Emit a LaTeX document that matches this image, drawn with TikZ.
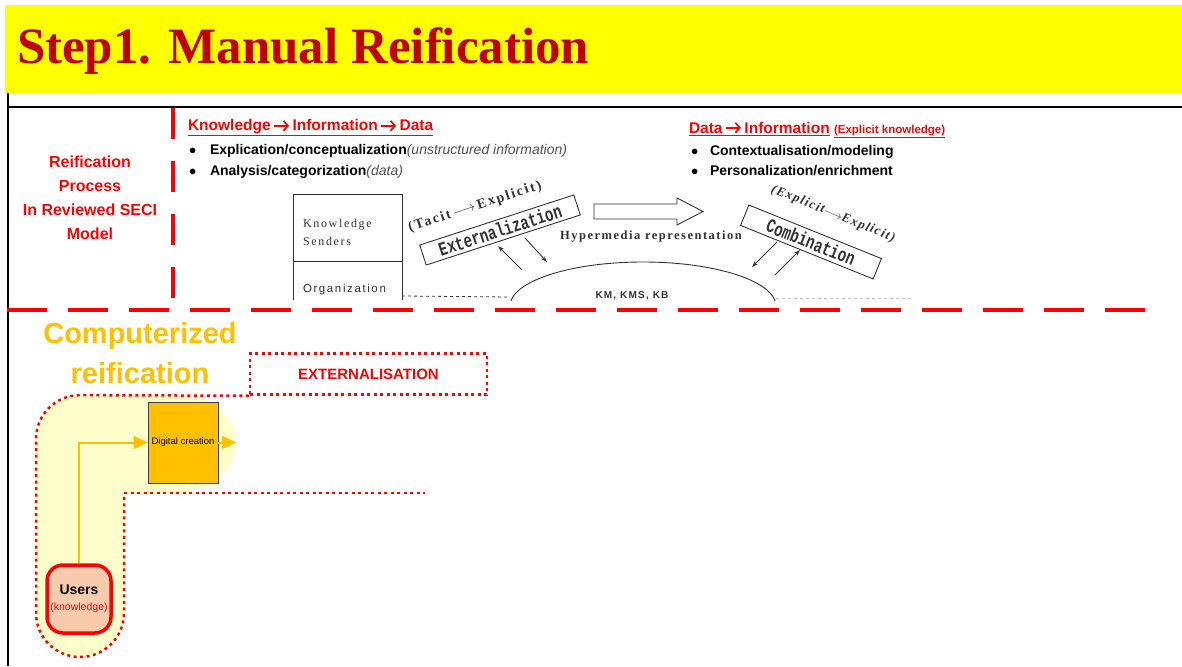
\documentclass[tikz,border=0pt]{standalone}
\usepackage{fontspec}
\setmainfont{Liberation Serif}
\newfontfamily\lsans{Liberation Sans}
\newfontfamily\lmono{Liberation Mono}
\usetikzlibrary{arrows.meta}
\definecolor{titlered}{RGB}{192,0,0}
\definecolor{bannery}{RGB}{255,255,0}
\definecolor{orng}{RGB}{255,192,0}
\definecolor{lighty}{RGB}{255,255,204}
\definecolor{peach}{RGB}{248,203,173}
\definecolor{seci}{RGB}{50,50,50}
\definecolor{itgrey}{RGB}{80,80,80}
\newcommand{\bigarr}{\,\tikz[baseline=0pt]{\draw[red, line width=1.7pt, -{Straight Barb[length=4.5pt,width=10pt,line width=1.7pt]}] (0pt,5.2pt) -- (15pt,5.2pt);}\,}
\tikzset{
  reddash/.style={draw=red, line width=3.5pt},
  reddot/.style={draw=red, line width=2.5pt, dash pattern=on 3pt off 3.5pt},
  txt/.style={inner sep=0pt, outer sep=0pt},
  secibox/.style={draw=seci, line width=0.9pt},
  smallarrow/.style={draw=seci, line width=0.9pt, -{Stealth[length=6pt,width=4pt]}},
  hdr/.style={txt, anchor=base west, text=red, font=\lsans\bfseries\fontsize{15.5}{15}\selectfont},
  bul/.style={txt, anchor=base west, font=\lsans\bfseries\fontsize{14}{14}\selectfont},
  orarrow/.style={draw=orng, line width=2pt, -{Triangle[length=14pt,width=13pt]}}
}
\begin{document}
\begin{tikzpicture}[x=1pt,y=-1pt]
\useasboundingbox (0,0) rectangle (1182,666);
% banner
\fill[bannery] (5,5) rectangle (1182,93);
\node[txt, anchor=base west, text=titlered, font=\bfseries\fontsize{51}{51}\selectfont] (title) at (17,64) {Step1. Manual Reification};
% black frame lines
\draw[black, line width=2.5pt] (8,93) -- (8,666);
\draw[black, line width=2.5pt] (8,107) -- (1182,107);
% red dashed separators
\draw[reddash, dash pattern=on 31pt off 22pt] (173,108) -- (173,300);
\draw[reddash, dash pattern=on 40pt off 21pt] (7,310) -- (1162,310);
% left label
\node[txt, align=center, text=red, font=\lsans\bfseries\fontsize{16}{24}\selectfont] (reif) at (90,198) {Reification\\Process\\In Reviewed SECI\\Model};
% headers
\node[hdr] (h1) at (188,131) {\underline{Knowledge\bigarr Information\bigarr Data}};
\node[bul] (b1) at (189,154) {$\bullet$};
\node[bul] (t1) at (210,154) {Explication/conceptualization{\mdseries\itshape\color{itgrey}(unstructured information)}};
\node[bul] (b2) at (189,175) {$\bullet$};
\node[bul] (t2) at (210,175) {Analysis/categorization{\mdseries\itshape\color{itgrey}(data)}};
\node[hdr] (h2) at (689,133) {\underline{Data\bigarr Information} {\fontsize{11.5}{12}\selectfont\underline{(Explicit knowledge)}}};
\node[bul] (b3) at (691,155) {$\bullet$};
\node[bul] (t3) at (710,155) {Contextualisation/modeling};
\node[bul] (b4) at (691,175) {$\bullet$};
\node[bul] (t4) at (710,175) {Personalization/enrichment};
% SECI picture
\draw[secibox] (293,300) -- (293,194) -- (402,194) -- (402,300);
\draw[secibox] (293,261) -- (402,261);
\node[txt, anchor=base west, text=seci, font=\fontsize{12}{12}\selectfont\addfontfeatures{LetterSpace=14}] (ks1) at (303,227) {Knowledge};
\node[txt, anchor=base west, text=seci, font=\fontsize{12}{12}\selectfont\addfontfeatures{LetterSpace=14}] (ks2) at (303,245) {Senders};
\node[txt, anchor=base west, text=seci, font=\lsans\fontsize{11.5}{12}\selectfont\addfontfeatures{LetterSpace=14}] (org) at (303,292) {Organization};
\begin{scope}
\clip (495,240) rectangle (800,300);
\draw[secibox] (643,306) ellipse [x radius=133pt, y radius=44pt];
\end{scope}
\coordinate (ellL) at (510,297);
\coordinate (ellR) at (776,298);
\coordinate (dashEnd) at (910,298);
\draw[seci, line width=0.8pt, dashed] (402,296) -- (ellL);
\draw[black!25, line width=0.8pt, dashed] (ellR) -- (dashEnd);
\node[txt, text=seci, font=\lsans\bfseries\fontsize{10}{10}\selectfont\addfontfeatures{LetterSpace=12}] (km) at (632,296) {KM, KMS, KB};
\node[secibox, rotate=18, minimum width=162pt, minimum height=21pt, inner sep=0pt, text=seci] (ext) at (500,230) {\lmono\bfseries\fontsize{15}{15}\selectfont\scalebox{0.95}[1.3]{Externalization}};
\node[txt, rotate=18, text=seci, font=\bfseries\fontsize{14}{14}\selectfont\addfontfeatures{LetterSpace=14}] (tacit) at (475,207) {(Tacit$\,\longrightarrow\,$Explicit)};
\node[secibox, rotate=-22, minimum width=143pt, minimum height=22pt, inner sep=0pt, text=seci] (comb) at (811,242) {\lmono\bfseries\fontsize{15}{15}\selectfont\scalebox{0.95}[1.3]{Combination}};
\node[txt, rotate=-22, text=seci, font=\bfseries\itshape\fontsize{13}{13}\selectfont\addfontfeatures{LetterSpace=10}] (expl) at (833,214) {(Explicit$\longrightarrow$Explicit)};
\node[txt, text=seci, font=\bfseries\fontsize{12.5}{13}\selectfont\addfontfeatures{LetterSpace=12}] (hyper) at (651,237) {Hypermedia representation};
\draw[seci, line width=0.9pt] (594,204) -- (677,204) -- (677,198) -- (703,211.5) -- (677,225) -- (677,219) -- (594,219) -- cycle;
\coordinate (a1s) at (522,270); \coordinate (a1e) at (498,246);
\coordinate (a2s) at (525,238); \coordinate (a2e) at (547,262);
\coordinate (a3s) at (777,242); \coordinate (a3e) at (752,267);
\coordinate (a4s) at (775,275); \coordinate (a4e) at (800,250);
\draw[smallarrow] (a1s) -- (a1e);
\draw[smallarrow] (a2s) -- (a2e);
\draw[smallarrow] (a3s) -- (a3e);
\draw[smallarrow] (a4s) -- (a4e);
% computerized reification
\node[txt, anchor=base, text=orng, font=\lsans\bfseries\fontsize{29}{29}\selectfont] (comp1) at (140,343) {Computerized};
\node[txt, anchor=base, text=orng, font=\lsans\bfseries\fontsize{29}{29}\selectfont] (comp2) at (140,383) {reification};
% yellow region
\fill[lighty, rounded corners=44pt] (150,395) -- (36,395) -- (36,657) -- (124,657) -- (124,500) [sharp corners] -- (124,493) -- (190,493) -- (190,395) -- cycle;
\fill[lighty] (190,443) circle [radius=46pt];
% externalisation box and dotted outline
\node[reddot, minimum width=237pt, minimum height=41pt, inner sep=0pt, text=red, font=\lsans\bfseries\fontsize{15}{15}\selectfont] (extl) at (368.5,374) {EXTERNALISATION};
\coordinate (corner) at (124,493);
\coordinate (lend) at (425,493);
\draw[reddot, rounded corners=44pt] (extl.south west) -- (36,395) -- (36,657) -- (124,657) -- (corner);
\draw[reddot] (corner) -- (lend);
% digital creation
\node[draw=black!75, line width=0.8pt, fill=orng, minimum width=70pt, minimum height=81pt, inner sep=0pt, font=\lsans\fontsize{9.5}{10}\selectfont] (dc) at (183,442.5) {Digital creation};
% users
\node[draw=red, line width=3.5pt, fill=peach, rounded corners=16pt, minimum width=64pt, minimum height=68pt, inner sep=0pt, align=center] (users) at (79,599) {{\lsans\bfseries\fontsize{14}{15}\selectfont Users}\\[4pt]{\lsans\color{red}\fontsize{10.5}{11}\selectfont (knowledge)}};
\draw[orarrow] (users.north) |- (dc.west);
\coordinate (dcout) at (236,442.5);
\draw[orarrow] (dc.east) -- (dcout);
\end{tikzpicture}
\end{document}
